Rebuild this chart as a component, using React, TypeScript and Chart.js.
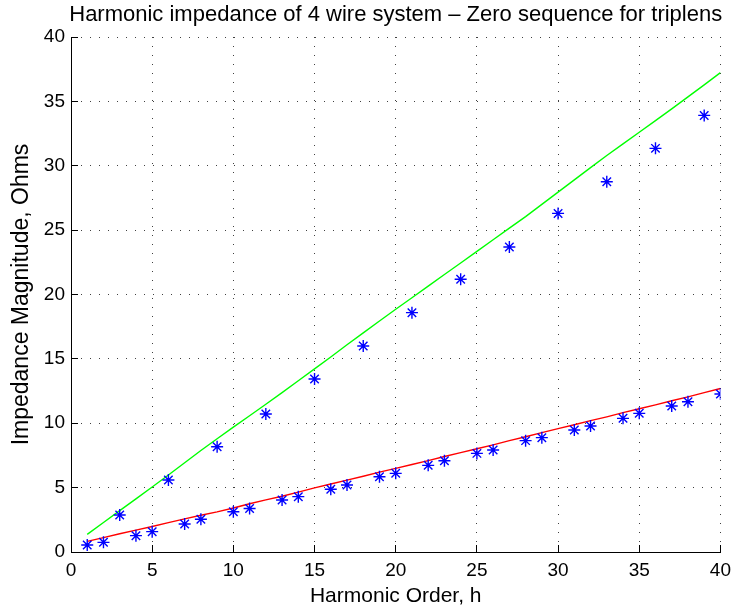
import React, { useEffect, useRef } from "react";
import { Chart, registerables } from "chart.js";

Chart.register(...registerables);

const harmonics = [
  1, 2, 3, 4, 5, 6, 7, 8, 9, 10, 11, 12, 13, 14, 15, 16, 17, 18, 19, 20,
  21, 22, 23, 24, 25, 26, 27, 28, 29, 30, 31, 32, 33, 34, 35, 36, 37, 38, 39, 40,
];

// measured impedance (blue asterisks)
const measured = [
  0.54, 0.75, 2.87, 1.27, 1.58, 5.59, 2.17, 2.54, 8.18, 3.13,
  3.38, 10.72, 4.04, 4.3, 13.44, 4.87, 5.2, 16.0, 5.85, 6.11,
  18.59, 6.73, 7.09, 21.18, 7.66, 7.92, 23.69, 8.65, 8.88, 26.3,
  9.48, 9.79, 28.76, 10.38, 10.77, 31.35, 11.34, 11.67, 33.91, 12.27,
];

// zero-sequence impedance (green line)
const zeroSequence = [
  1.37, 2.29, 3.21, 4.13, 5.05, 5.98, 6.93, 7.88, 8.8, 9.7,
  10.58, 11.48, 12.38, 13.3, 14.22, 15.15, 16.1, 17.02, 17.94, 18.85,
  19.75, 20.65, 21.55, 22.45, 23.35, 24.25, 25.15, 26.05, 27.0, 27.95,
  28.9, 29.85, 30.8, 31.7, 32.6, 33.5, 34.42, 35.35, 36.28, 37.23,
];

// positive/negative sequence impedance (red line)
const posNegSequence = [
  0.82, 1.12, 1.42, 1.7, 1.98, 2.28, 2.57, 2.85, 3.12, 3.42,
  3.75, 4.05, 4.33, 4.65, 4.98, 5.28, 5.58, 5.88, 6.2, 6.5,
  6.8, 7.1, 7.42, 7.72, 8.02, 8.32, 8.65, 8.95, 9.27, 9.58,
  9.88, 10.2, 10.5, 10.82, 11.13, 11.43, 11.75, 12.05, 12.38, 12.7,
];

const xTickValues = [0, 5, 10, 15, 20, 25, 30, 35, 40];
const yTickValues = [0, 5, 10, 15, 20, 25, 30, 35, 40];

const titleText = "Harmonic impedance of 4 wire system \u2013 Zero sequence for triplens";
const xLabel = "Harmonic Order, h";
const yLabel = "Impedance Magnitude, Ohms";

const FONT = "'Liberation Sans', Arial, Helvetica, sans-serif";
const TICK_FS = 19;
const TITLE_FS = 22;
const XLABEL_FS = 21;
const YLABEL_FS = 23;

const inwardTicks = {
  id: "inwardTicks",
  afterDatasetsDraw(chart: any) {
    const { ctx, chartArea, scales } = chart;
    ctx.save();
    ctx.strokeStyle = "#000";
    ctx.lineWidth = 1;
    ctx.beginPath();
    for (const v of xTickValues) {
      const px = Math.round(scales.x.getPixelForValue(v) - 0.5) + 0.5;
      ctx.moveTo(px, chartArea.bottom);
      ctx.lineTo(px, chartArea.bottom - 7);
    }
    for (const v of yTickValues) {
      const py = Math.round(scales.y.getPixelForValue(v) - 0.5) + 0.5;
      ctx.moveTo(chartArea.left, py);
      ctx.lineTo(chartArea.left + 7, py);
    }
    ctx.stroke();
    ctx.restore();
  },
};

const plotTitle = {
  id: "plotTitle",
  afterDraw(chart: any) {
    const { ctx, chartArea } = chart;
    ctx.save();
    ctx.fillStyle = "#000";
    ctx.font = `${TITLE_FS}px ${FONT}`;
    ctx.textAlign = "center";
    ctx.textBaseline = "middle";
    ctx.fillText(titleText, (chartArea.left + chartArea.right) / 2, 15);
    ctx.restore();
  },
};

export default function App() {
  const canvasRef = useRef<HTMLCanvasElement | null>(null);

  useEffect(() => {
    if (!canvasRef.current) return;
    const toPts = (arr: number[]) => harmonics.map((h, i) => ({ x: h, y: arr[i] }));
    const chart = new Chart(canvasRef.current, {
      type: "scatter",
      data: {
        datasets: [
          {
            label: "Measured",
            data: toPts(measured),
            showLine: false,
            pointStyle: "star",
            pointRadius: 6,
            pointBorderWidth: 1.4,
            borderColor: "#0000ff",
            backgroundColor: "#0000ff",
            pointBorderColor: "#0000ff",
            order: 0,
          },
          {
            label: "Zero sequence",
            data: toPts(zeroSequence),
            showLine: true,
            pointRadius: 0,
            borderColor: "#00ff00",
            borderWidth: 1.4,
            tension: 0,
            order: 1,
          },
          {
            label: "Positive/negative sequence",
            data: toPts(posNegSequence),
            showLine: true,
            pointRadius: 0,
            borderColor: "#ff0000",
            borderWidth: 1.4,
            tension: 0,
            order: 2,
          },
        ],
      },
      options: {
        animation: false,
        responsive: false,
        devicePixelRatio: 1,
        layout: { padding: { left: 0, right: 14, top: 37, bottom: 0 } },
        plugins: {
          legend: { display: false },
          tooltip: { enabled: false },
          title: { display: false },
        },
        scales: {
          x: {
            type: "linear",
            min: 0,
            max: 40,
            afterBuildTicks: (s: any) => {
              s.ticks = xTickValues.map((v) => ({ value: v }));
            },
            afterFit: (s: any) => {
              s.height = 58;
            },
            ticks: {
              color: "#000",
              padding: 7,
              maxRotation: 0,
              font: { family: FONT, size: TICK_FS },
            },
            grid: { color: "#404040", lineWidth: 1, drawTicks: false },
            border: { display: true, color: "#000", width: 1, dash: [1, 8] },
            title: {
              display: true,
              text: xLabel,
              color: "#000",
              font: { family: FONT, size: XLABEL_FS },
              padding: { top: 0, bottom: 1.5 },
            },
          },
          y: {
            type: "linear",
            min: 0,
            max: 40,
            afterBuildTicks: (s: any) => {
              s.ticks = yTickValues.map((v) => ({ value: v }));
            },
            afterFit: (s: any) => {
              s.width = 71;
            },
            ticks: {
              color: "#000",
              padding: 6,
              font: { family: FONT, size: TICK_FS },
            },
            grid: { color: "#404040", lineWidth: 1, drawTicks: false },
            border: { display: true, color: "#000", width: 1, dash: [1, 8] },
            title: {
              display: true,
              text: yLabel,
              color: "#000",
              font: { family: FONT, size: YLABEL_FS },
              padding: { top: 22 - YLABEL_FS * 0.6, bottom: 0 },
            },
          },
        },
      },
      plugins: [inwardTicks, plotTitle],
    } as any);
    return () => chart.destroy();
  }, []);

  return (
    <div style={{ position: "fixed", left: 0, top: 0, width: 738, height: 610, background: "#fff" }}>
      <canvas ref={canvasRef} width={738} height={610} style={{ display: "block" }} />
    </div>
  );
}
